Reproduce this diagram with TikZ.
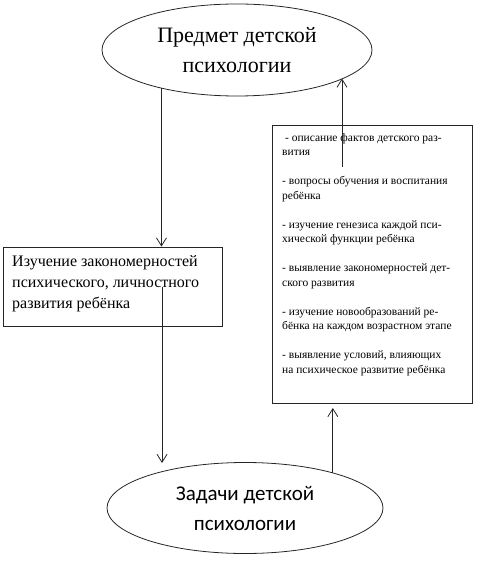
\documentclass[tikz,border=0pt]{standalone}
\usepackage{fontspec}
\setmainfont{Liberation Serif}
\newfontfamily\calib{Carlito}
\usetikzlibrary{shapes.geometric,arrows.meta}
\begin{document}
\begin{tikzpicture}[x=1pt,y=-1pt,
  shapeline/.style={draw=black!85,line width=0.8pt},
  arr/.style={draw=black!85,line width=0.8pt,-{Straight Barb[length=8pt,width=10pt]}},
  oval/.style={ellipse,shapeline,inner sep=0pt,align=center},
  txt/.style={anchor=base west,align=left,inner sep=0pt}]
\useasboundingbox (0,0) rectangle (482,561);
% top ellipse
\node[oval,minimum width=270pt,minimum height=92pt,font=\fontsize{22}{30}\selectfont] (top) at (237,50) {Предмет детской\\психологии};
% left box
\node[shapeline,minimum width=219pt,minimum height=79pt,inner sep=0pt] (lbox) at (112.5,286.5) {};
\node[txt,font=\fontsize{16}{21}\selectfont] (ltext) at (12,308) {Изучение закономерностей\\психического, личностного\\развития ребёнка};
% right box
\node[shapeline,minimum width=200pt,minimum height=278pt,inner sep=0pt] (rbox) at (372,264) {};
\node[txt,font=\fontsize{11.5}{14.5}\selectfont] (rtext) at (282,373) {~- описание фактов детского раз-\\вития\\[14.5pt]
- вопросы обучения и воспитания\\ребёнка\\[14.5pt]
- изучение генезиса каждой пси-\\хической функции ребёнка\\[14.5pt]
- выявление закономерностей дет-\\ского развития\\[14.5pt]
- изучение новообразований ре-\\бёнка на каждом возрастном этапе\\[14.5pt]
- выявление условий, влияющих\\на психическое развитие ребёнка};
% bottom ellipse
\node[oval,minimum width=276pt,minimum height=91pt,font=\calib\fontsize{21}{30}\selectfont] (bot) at (245,508) {Задачи детской\\психологии};
% connectors
\coordinate (a1) at (162,287);
\coordinate (a1e) at (162,463);
\coordinate (a2) at (342,167);
\coordinate (b1e) at (332,408);
\draw[arr] (top.207) -- (top.207 |- lbox.north);
\draw[arr] (a1) -- (a1e);
\draw[arr] (bot.22) -- (bot.22 |- b1e);
\draw[arr] (a2) -- (a2 |- top.-15.4);
\end{tikzpicture}
\end{document}
